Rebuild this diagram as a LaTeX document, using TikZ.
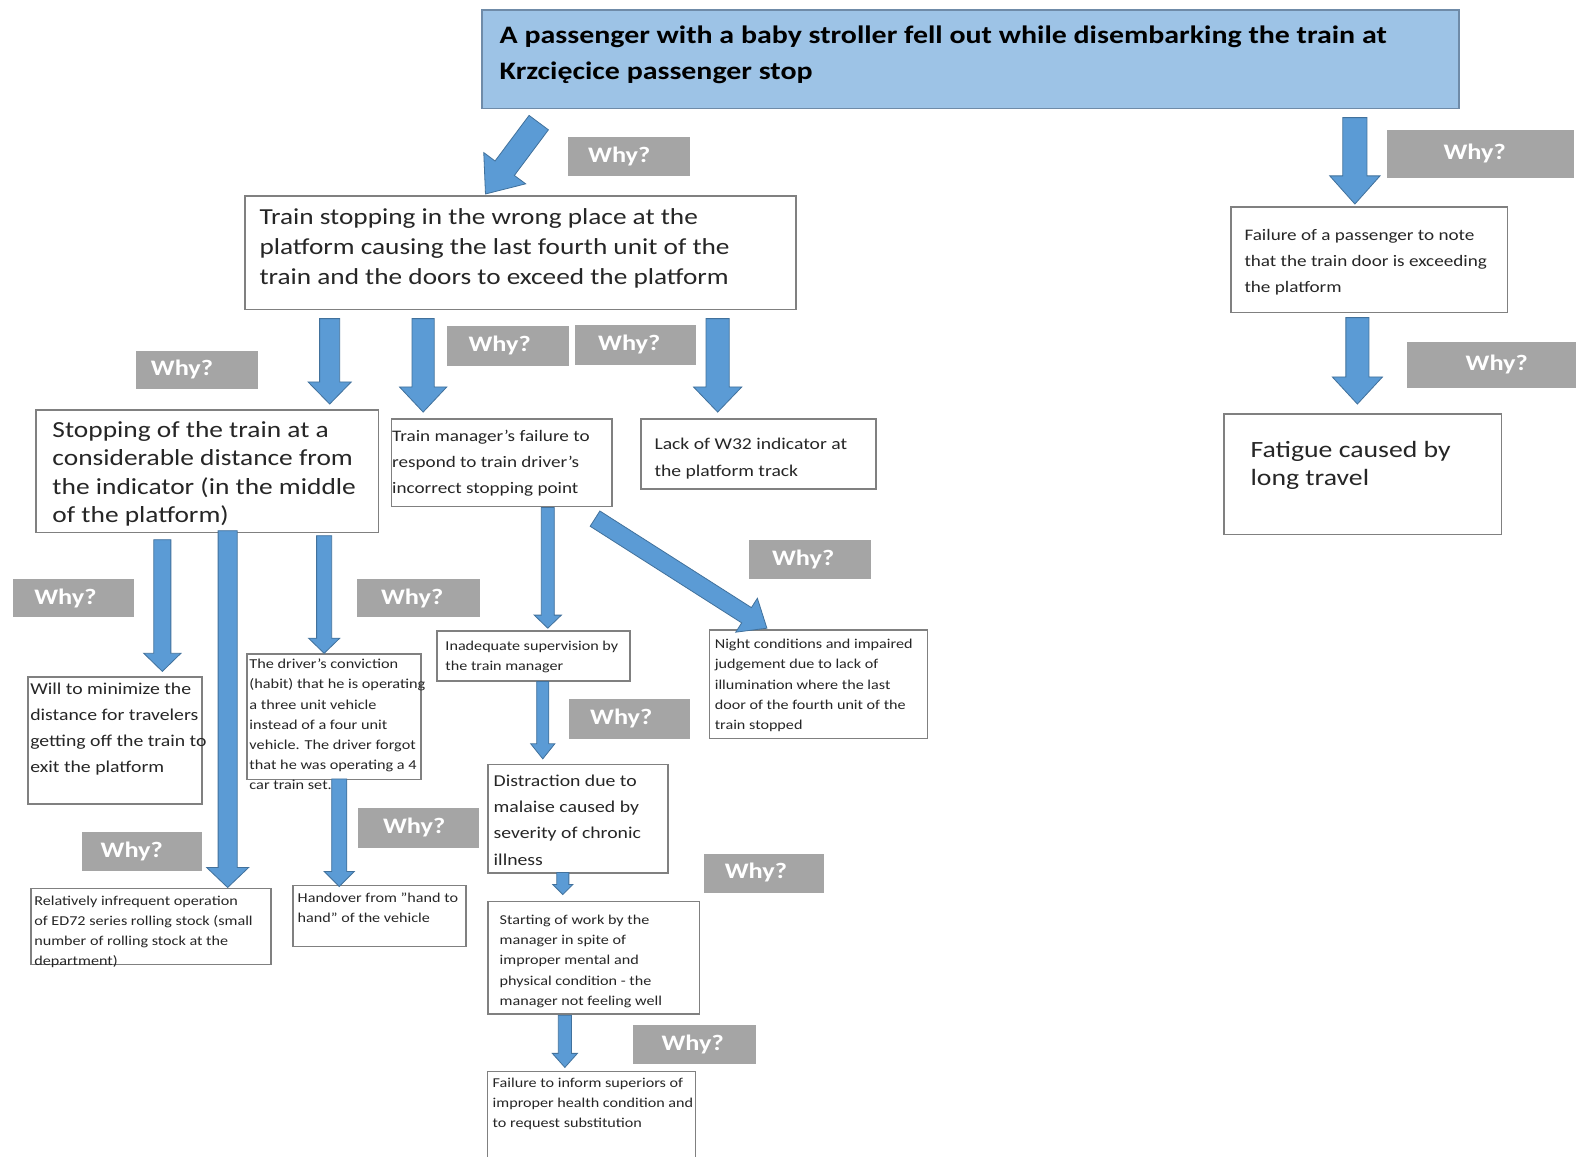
\documentclass[tikz,border=0pt]{standalone}
\usepackage{fontspec}
\setmainfont{Carlito}[FakeStretch=1.19]
\usetikzlibrary{calc}
\definecolor{arrowfill}{HTML}{5B9BD5}
\definecolor{arrowdraw}{HTML}{41719C}
\definecolor{whygray}{HTML}{A5A5A5}
\definecolor{topfill}{HTML}{9DC3E6}
\definecolor{topdraw}{HTML}{6F8BA8}
\definecolor{boxgray}{HTML}{808080}
\definecolor{textdark}{HTML}{262626}
\tikzset{
  barrowstyle/.style={fill=arrowfill, draw=arrowdraw, line width=0.8pt, line join=miter},
  boxstyle/.style={draw=boxgray, line width=1.5pt, fill=white, inner sep=0pt},
  topstyle/.style={draw=topdraw, line width=1.8pt, fill=topfill, inner sep=0pt},
  whybox/.style={fill=whygray, draw=none, inner sep=0pt},
  whytext/.style={text=white, font=\bfseries\fontsize{22}{28}\selectfont, inner sep=0pt},
  txt/.style={anchor=north west, inner sep=0pt, align=left, text=textdark},
}
\newcommand\blockarrow[5]{%
  \coordinate (ba-H) at ($#2!#5pt!#1$);
  \draw[barrowstyle] ($#1!#3pt!90:#2$) -- ($(ba-H)!#3pt!90:#2$) -- ($(ba-H)!#4pt!90:#2$) -- #2 -- ($(ba-H)!#4pt!-90:#2$) -- ($(ba-H)!#3pt!-90:#2$) -- ($#1!#3pt!-90:#2$) -- cycle;}
\newcommand\boxat[5]{\node[boxstyle, anchor=north west, minimum width={(#4-#2)*1pt}, minimum height={(#5-#3)*1pt}] (#1) at (#2,#3) {};}
\newcommand\whyat[6]{\node[whybox, anchor=north west, minimum width={(#4-#2)*1pt}, minimum height={(#5-#3)*1pt}] (#1) at (#2,#3) {};
  \node[whytext, anchor=west] (#1-t) at (#6,{(#3+#5)/2}) {Why?};}
\begin{document}
\begin{tikzpicture}[x=1pt,y=-1pt]
\useasboundingbox[fill=white] (0,0) rectangle (1568,1151);

% top box
\node[topstyle, anchor=north west, minimum width=972pt, minimum height=98pt] (top) at (479,9) {};
\node[txt, text=black, font=\bfseries\fontsize{25}{36}\selectfont] (top-t) at (497,25.5)
 {A passenger with a baby stroller fell out while disembarking the train at\\Krzcięcice passenger stop};

% boxes
\boxat{stop}{243}{194}{791}{307}
\node[txt, font=\fontsize{22.8}{30}\selectfont] (stop-t) at (258,207.5)
 {Train stopping in the wrong place at the\\platform causing the last fourth unit of the\\train and the doors to exceed the platform};

\boxat{pass}{1224}{205}{1499}{310}
\node[txt, font=\fontsize{16}{26}\selectfont] (pass-t) at (1238,227.5)
 {Failure of a passenger to note\\that the train door is exceeding\\the platform};

\boxat{dist}{35}{407}{376}{529}
\node[txt, font=\fontsize{22.9}{28}\selectfont] (dist-t) at (52,419.5)
 {Stopping of the train at a\\considerable distance from\\the indicator (in the middle\\of the platform)};

\boxat{mgr}{389}{416}{608}{503}
\node[txt, font=\fontsize{16}{26}\selectfont] (mgr-t) at (390,428)
 {Train manager's failure to\\respond to train driver's\\incorrect stopping point};

\boxat{lack}{637}{416}{871}{486}
\node[txt, font=\fontsize{16.4}{26}\selectfont] (lack-t) at (651,436)
 {Lack of W32 indicator at\\the platform track};

\boxat{fat}{1217}{411}{1493}{531}
\node[txt, font=\fontsize{23.2}{28}\selectfont] (fat-t) at (1244,438.5)
 {Fatigue caused by\\long travel};

\boxat{will}{27}{673}{200}{799}
\node[txt, font=\fontsize{16.5}{25.7}\selectfont] (will-t) at (30,679.5)
 {Will to minimize the\\distance for travelers\\getting off the train to\\exit the platform};

\boxat{drv}{245}{650}{418}{775}
\node[txt, font=\fontsize{13.6}{20}\selectfont] (drv-t) at (248,655.7)
 {The driver's conviction\\(habit) that he is operating\\a three unit vehicle\\instead of a four unit\\vehicle. The driver forgot\\that he was operating a 4\\car train set.};

\boxat{inad}{434}{627}{626}{677}
\node[txt, font=\fontsize{13.5}{20}\selectfont] (inad-t) at (443,638)
 {Inadequate supervision by\\the train manager};

\boxat{night}{705}{626}{922}{734}
\node[txt, font=\fontsize{13.5}{20}\selectfont] (night-t) at (711,636)
 {Night conditions and impaired\\judgement due to lack of\\illumination where the last\\door of the fourth unit of the\\train stopped};

\boxat{distr}{485}{760}{664}{868}
\node[txt, font=\fontsize{16.5}{26}\selectfont] (distr-t) at (491,771)
 {Distraction due to\\malaise caused by\\severity of chronic\\illness};

\boxat{rel}{30}{883}{269}{959}
\node[txt, font=\fontsize{13.5}{19.7}\selectfont] (rel-t) at (34,891.5)
 {Relatively infrequent operation\\of ED72 series rolling stock (small\\number of rolling stock at the\\department)};

\boxat{hand}{291}{880}{463}{941}
\node[txt, font=\fontsize{13.5}{20}\selectfont] (hand-t) at (296,888.5)
 {Handover from "hand to\\hand" of the vehicle};

\boxat{start}{485}{896}{695}{1008}
\node[txt, font=\fontsize{13.5}{20}\selectfont] (start-t) at (497,910.5)
 {Starting of work by the\\manager in spite of\\improper mental and\\physical condition - the\\manager not feeling well};

\coordinate (inf-bl) at (485,1155);
\coordinate (inf-tr) at (692,1066);
\coordinate (inf-br) at (692,1155);
\fill[white] (inf-bl) rectangle (inf-tr);
\draw[draw=boxgray, line width=1.5pt] (inf-bl) |- (inf-tr) -- (inf-br);
\node[txt, font=\fontsize{13.5}{20}\selectfont] (inf-t) at (490,1072.6)
 {Failure to inform superiors of\\improper health condition and\\to request substitution};

% Why labels
\whyat{w1}{565}{136}{686}{175}{585}
\whyat{w2}{1380}{129}{1566}{177}{1436}
\whyat{w3}{135}{349}{256}{387}{150}
\whyat{w4}{445}{324}{566}{364}{466}
\whyat{w5}{572}{323}{692}{363}{595}
\whyat{w6}{1400}{340}{1568}{386}{1458}
\whyat{w7}{13}{576}{133}{614}{34}
\whyat{w8}{355}{576}{477}{614}{379}
\whyat{w9}{745}{537}{866}{576}{768}
\whyat{w10}{566}{695}{686}{735}{587}
\whyat{w11}{356}{804}{476}{843}{381}
\whyat{w12}{81}{828}{201}{866}{100}
\whyat{w13}{700}{849}{820}{888}{721}
\whyat{w14}{630}{1020}{752}{1058}{658}

% arrows
\coordinate (a1s) at (536,122);   \coordinate (a1e) at (483,193);
\coordinate (a2s) at (1348,117);  \coordinate (a2e) at (1348,203);
\coordinate (a3s) at (328,317);   \coordinate (a3e) at (328,402);
\coordinate (a4s) at (421,317);   \coordinate (a4e) at (421,410);
\coordinate (a5s) at (714,317);   \coordinate (a5e) at (714,410);
\coordinate (a6s) at (1350.5,316);\coordinate (a6e) at (1350.5,402);
\coordinate (a7s) at (161.5,537); \coordinate (a7e) at (161.5,668);
\coordinate (a8s) at (226.5,528); \coordinate (a8e) at (226.5,883);
\coordinate (a9s) at (322.5,533); \coordinate (a9e) at (322.5,650);
\coordinate (a10s) at (337.5,775);\coordinate (a10e) at (337.5,882);
\coordinate (a11s) at (545,505);  \coordinate (a11e) at (545,625);
\coordinate (a12s) at (592,516);  \coordinate (a12e) at (763,625);
\coordinate (a13s) at (540,678);  \coordinate (a13e) at (540,755);
\coordinate (a14s) at (560,868);  \coordinate (a14e) at (560,890);
\coordinate (a15s) at (562,1010); \coordinate (a15e) at (562,1062);

\blockarrow{(a1s)}{(a1e)}{12}{26}{32}
\blockarrow{(a2s)}{(a2e)}{12}{25}{28}
\blockarrow{(a3s)}{(a3e)}{10}{21.5}{22}
\blockarrow{(a4s)}{(a4e)}{11}{23.5}{25}
\blockarrow{(a5s)}{(a5e)}{11.5}{24}{25}
\blockarrow{(a6s)}{(a6e)}{11.5}{25}{27}
\blockarrow{(a7s)}{(a7e)}{8.5}{18.5}{18}
\blockarrow{(a8s)}{(a8e)}{9.5}{21}{20}
\blockarrow{(a9s)}{(a9e)}{7.5}{15.5}{15}
\blockarrow{(a10s)}{(a10e)}{7.5}{15}{15}
\blockarrow{(a11s)}{(a11e)}{6.5}{13.5}{13}
\blockarrow{(a12s)}{(a12e)}{9}{20}{24}
\blockarrow{(a13s)}{(a13e)}{6}{12}{15}
\blockarrow{(a14s)}{(a14e)}{6}{10}{10}
\blockarrow{(a15s)}{(a15e)}{6.5}{12.5}{14}
\end{tikzpicture}
\end{document}
